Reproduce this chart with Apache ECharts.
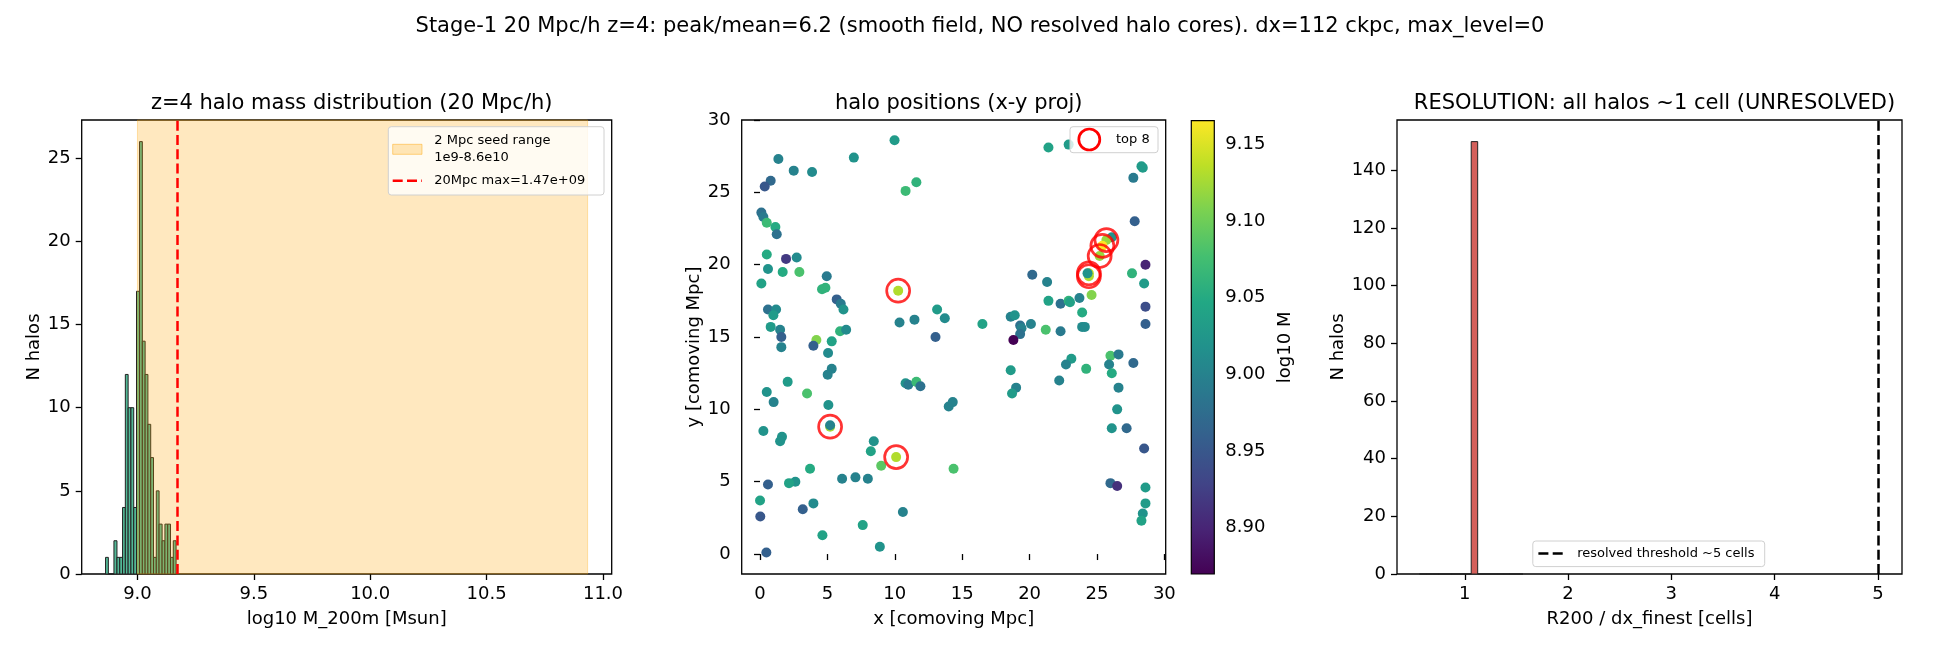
<!DOCTYPE html>
<html>
<head>
<meta charset="utf-8">
<script src="https://cdn.jsdelivr.net/npm/echarts@6/dist/echarts.min.js"></script>
<style>
  html, body { margin: 0; padding: 0; background: #fff; }
  #chart { width: 1950px; height: 650px; }
</style>
</head>
<body>
<div id="chart"></div>
<script>
// ---- left panel: halo mass histogram (25 bins) ----
const massEdges = [8.863, 8.875, 8.887, 8.899, 8.912, 8.924, 8.936, 8.948, 8.960, 8.972,
                   8.984, 8.996, 9.009, 9.021, 9.033, 9.045, 9.057, 9.069, 9.081, 9.093,
                   9.106, 9.118, 9.130, 9.142, 9.154, 9.166];
const massCounts = [1, 0, 0, 2, 1, 1, 4, 12, 10, 10, 4, 17, 26, 14, 12, 9, 7, 1, 5, 3, 2, 3, 3, 1, 2];
const seedRange = [9.0, 10.934];      // log10(1e9) .. log10(8.6e10)
const max20Mpc = 9.167;               // log10(1.47e9)
const massTicks = [9.0, 9.5, 10.0, 10.5, 11.0];
const countTicks = [0, 5, 10, 15, 20, 25];

// ---- middle panel: halo positions ----
const haloX = [9.98, 1.36, 2.50, 3.86, 6.96, 0.79, 0.35, 10.8, 11.6, 0.10,
  0.25, 0.50, 1.14, 1.24, 0.50, 1.93, 2.72, 0.59, 1.68, 2.92,
  0.10, 4.95, 4.60, 4.85, 10.25, 5.69, 5.99, 6.19, 0.59, 1.19,
  0.99, 0.79, 1.49, 1.58, 1.58, 4.18, 3.96, 5.32, 5.05, 5.94,
  6.39, 10.35, 11.46, 13.14, 13.71, 13.02, 21.4, 22.9, 28.3, 28.4,
  27.7, 27.8, 26.1, 25.7, 25.4, 25.2, 24.4, 24.4, 24.3, 28.6,
  27.6, 28.5, 20.2, 21.3, 24.6, 21.4, 22.3, 22.9, 23.0, 23.7,
  23.9, 28.6, 28.6, 16.5, 18.6, 18.9, 19.3, 20.1, 19.4, 19.3,
  18.8, 21.2, 22.3, 23.9, 24.1, 5.32, 5.02, 2.05, 0.50, 1.01,
  3.49, 5.07, 5.20, 5.20, 0.25, 1.63, 1.49, 8.44, 8.22, 10.1,
  8.99, 14.36, 3.71, 6.09, 7.08, 8.00, 2.62, 2.15, 0.59, 0.00,
  0.02, 3.17, 3.96, 7.62, 4.63, 10.6, 8.89, 0.47, 10.8, 11.0,
  11.6, 11.9, 14.0, 14.3, 23.1, 22.7, 24.2, 26.0, 26.6, 25.9,
  26.1, 27.7, 26.6, 26.5, 26.1, 27.2, 28.5, 26.0, 26.5, 28.6,
  28.6, 28.4, 28.3, 18.6, 19.0, 18.7, 22.2];
const haloY = [28.6, 27.3, 26.5, 26.4, 27.4, 25.8, 25.4, 25.1, 25.7, 23.6,
  23.3, 22.9, 22.6, 22.1, 20.7, 20.4, 20.5, 19.7, 19.5, 19.5,
  18.7, 19.2, 18.3, 18.4, 18.2, 17.6, 17.3, 16.9, 16.9, 16.9,
  16.5, 15.7, 15.5, 15.0, 14.3, 14.8, 14.4, 14.7, 13.9, 15.4,
  15.5, 16.0, 16.2, 16.9, 16.3, 15.0, 28.1, 28.3, 26.8, 26.7,
  26.0, 23.0, 21.9, 21.7, 21.3, 20.6, 19.4, 19.2, 19.4, 20.0,
  19.4, 18.7, 19.3, 18.8, 17.9, 17.5, 17.3, 17.5, 17.4, 17.7,
  16.7, 17.1, 15.9, 15.9, 16.4, 16.5, 15.8, 15.9, 15.6, 15.2,
  14.8, 15.5, 15.4, 15.7, 15.7, 12.8, 12.4, 11.9, 11.2, 10.5,
  11.1, 10.3, 8.8, 8.9, 8.5, 8.1, 7.8, 7.8, 7.1, 6.7,
  6.1, 5.9, 5.9, 5.2, 5.3, 5.2, 5.0, 4.9, 4.8, 3.7,
  2.6, 3.1, 3.5, 2.0, 1.3, 2.9, 0.5, 0.1, 11.8, 11.7,
  11.9, 11.6, 10.2, 10.5, 13.5, 13.1, 12.8, 13.7, 13.8, 13.1,
  12.5, 13.2, 11.5, 10.0, 8.7, 8.7, 7.3, 4.9, 4.7, 4.6,
  3.5, 2.8, 2.3, 12.7, 11.5, 11.1, 12.0];
const haloLogM = [9.03, 9.00, 9.00, 9.01, 9.02, 8.97, 8.95, 9.07, 9.06, 8.98,
  8.99, 9.07, 9.05, 8.98, 9.05, 8.92, 9.01, 9.02, 9.05, 9.08,
  9.04, 8.99, 9.06, 9.06, 9.13, 8.96, 8.99, 9.02, 8.98, 9.01,
  9.03, 9.03, 9.00, 8.96, 9.00, 9.11, 8.96, 9.04, 9.01, 9.06,
  9.01, 9.00, 9.00, 9.03, 9.01, 8.96, 9.04, 9.03, 9.03, 9.03,
  8.99, 8.96, 9.02, 9.12, 9.165, 9.12, 9.14, 9.13, 9.02, 8.90,
  9.06, 9.03, 8.97, 9.00, 9.11, 9.04, 8.98, 9.06, 9.04, 9.00,
  9.05, 8.94, 8.96, 9.04, 9.00, 9.02, 8.98, 9.00, 9.00, 8.98,
  8.87, 9.08, 8.99, 9.01, 9.01, 9.00, 9.00, 9.03, 9.02, 9.00,
  9.08, 9.02, 9.125, 9.00, 9.02, 9.02, 9.02, 9.02, 9.04, 9.13,
  9.09, 9.08, 9.05, 9.00, 9.00, 9.00, 9.02, 9.04, 8.96, 9.04,
  8.95, 8.96, 9.01, 9.04, 9.04, 9.00, 9.02, 8.96, 9.02, 8.99,
  9.07, 8.98, 9.00, 9.00, 9.03, 9.00, 9.06, 9.08, 8.99, 9.00,
  9.05, 8.97, 9.00, 9.02, 9.02, 8.97, 8.95, 8.97, 8.91, 9.03,
  9.03, 9.02, 9.04, 9.03, 9.00, 9.03, 9.00];
const posTicks = [0, 5, 10, 15, 20, 25, 30];
const nTop = 8;
const cbRange = [8.8698, 9.1654];
const cbTicks = [8.90, 8.95, 9.00, 9.05, 9.10, 9.15];

// ---- right panel: R200 / dx histogram ----
const resEdges = [0.5625, 0.625, 0.6875, 0.75, 0.8125, 0.875, 0.9375, 1.0, 1.0625,
                  1.125, 1.1875, 1.25, 1.3125, 1.375, 1.4375, 1.5, 1.5625];
const resCounts = [0, 0, 0, 0, 0, 0, 0, 0, 150, 0, 0, 0, 0, 0, 0, 0];
const resolvedThreshold = 5;
const cellTicks = [1, 2, 3, 4, 5];
const resCountTicks = [0, 20, 40, 60, 80, 100, 120, 140];

const viridis = ['#440154', '#482475', '#414487', '#355f8d', '#2a788e', '#21918c',
                 '#22a884', '#44bf70', '#7ad151', '#bddf26', '#fde725'];

const FONT = 'DejaVu Sans';

window.onload = () => {
    const chart = echarts.init(document.getElementById('chart'));

    const histData = (edges, counts) => counts.map((c, i) => [edges[i], edges[i + 1], c]);
    const scatterData = haloX.map((x, i) => [x, haloY[i], haloLogM[i]]);
    const topIdx = haloLogM.map((m, i) => i).sort((a, b) => haloLogM[b] - haloLogM[a]).slice(0, nTop);
    const topData = topIdx.map(i => [haloX[i], haloY[i]]);

    const histItem = (fill, stroke) => (params, api) => {
        const p0 = api.coord([api.value(0), api.value(2)]);
        const p1 = api.coord([api.value(1), 0]);
        return {
            type: 'rect',
            shape: { x: p0[0], y: p0[1], width: p1[0] - p0[0], height: p1[1] - p0[1] },
            style: { fill: fill, stroke: stroke, lineWidth: 1 }
        };
    };

    const tickLabel = {
        color: '#000', fontSize: 18, fontFamily: FONT, margin: 11
    };
    const axisBase = (ticks, fmt) => ({
        type: 'value',
        axisLine: { show: false },
        axisTick: { show: true, length: 6, customValues: ticks, lineStyle: { color: '#000', width: 1.3 } },
        axisLabel: Object.assign({ customValues: ticks, formatter: fmt }, tickLabel),
        splitLine: { show: false },
        nameLocation: 'middle',
        nameTextStyle: { color: '#000', fontSize: 18, fontFamily: FONT }
    });
    const gridBox = { show: true, borderColor: '#000', borderWidth: 1.3, backgroundColor: 'transparent' };

    const titleStyle = { color: '#000', fontSize: 21, fontWeight: 'normal', fontFamily: FONT };

    const option = {
        backgroundColor: '#fff',
        animation: false,
        title: [
            { text: 'Stage-1 20 Mpc/h z=4: peak/mean=6.2 (smooth field, NO resolved halo cores). dx=112 ckpc, max_level=0',
              left: 975, top: 11, textAlign: 'center', textStyle: titleStyle },
            { text: 'z=4 halo mass distribution (20 Mpc/h)', left: 346.7, top: 88, textAlign: 'center', textStyle: titleStyle },
            { text: 'halo positions (x-y proj)', left: 953.7, top: 88, textAlign: 'center', textStyle: titleStyle },
            { text: 'RESOLUTION: all halos ~1 cell (UNRESOLVED)', left: 1649.5, top: 88, textAlign: 'center', textStyle: titleStyle }
        ],
        grid: [
            Object.assign({ left: 81.7, top: 120, width: 530, height: 454 }, gridBox),
            Object.assign({ left: 741.7, top: 120, width: 424, height: 454 }, gridBox),
            { left: 1191.3, top: 120.7, width: 23, height: 453.3, show: false },
            Object.assign({ left: 1397, top: 120, width: 505, height: 454 }, gridBox)
        ],
        xAxis: [
            Object.assign(axisBase(massTicks, v => v.toFixed(1)),
                { gridIndex: 0, min: 8.7605, max: 11.0375, name: 'log10 M_200m [Msun]', nameGap: 36 }),
            Object.assign(axisBase(posTicks, v => String(v)),
                { gridIndex: 1, min: -1.36, max: 30.1, name: 'x [comoving Mpc]', nameGap: 36 }),
            { gridIndex: 2, type: 'value', min: 0, max: 1, show: false },
            Object.assign(axisBase(cellTicks, v => String(v)),
                { gridIndex: 3, min: 0.344, max: 5.233, name: 'R200 / dx_finest [cells]', nameGap: 36 })
        ],
        yAxis: [
            Object.assign(axisBase(countTicks, v => String(v)),
                { gridIndex: 0, min: 0, max: 27.3, name: 'N halos', nameGap: 38 }),
            Object.assign(axisBase(posTicks, v => String(v)),
                { gridIndex: 1, min: -1.38, max: 30.0, name: 'y [comoving Mpc]', nameGap: 38 }),
            Object.assign(axisBase(cbTicks, v => v.toFixed(2)),
                { gridIndex: 2, min: cbRange[0], max: cbRange[1], position: 'right', name: 'log10 M', nameGap: 62, nameRotate: 90 }),
            Object.assign(axisBase(resCountTicks, v => String(v)),
                { gridIndex: 3, min: 0, max: 157.5, name: 'N halos', nameGap: 49 })
        ],
        visualMap: {
            type: 'continuous', show: false, seriesIndex: 2, dimension: 2,
            min: cbRange[0], max: cbRange[1], inRange: { color: viridis }
        },
        series: [
            {
                type: 'custom', xAxisIndex: 0, yAxisIndex: 0, z: 2,
                encode: { x: [0, 1], y: 2 },
                data: histData(massEdges, massCounts),
                renderItem: histItem('#52b896', '#222')
            },
            {
                type: 'custom', xAxisIndex: 0, yAxisIndex: 0, z: 3,
                encode: { x: [0, 1] },
                data: [seedRange],
                renderItem: (params, api) => {
                    const a = api.coord([api.value(0), 0]);
                    const b = api.coord([api.value(1), 0]);
                    const cs = params.coordSys;
                    return {
                        type: 'rect',
                        shape: { x: a[0], y: cs.y, width: b[0] - a[0], height: cs.height },
                        style: { fill: 'rgba(255,165,0,0.25)', stroke: 'rgba(255,165,0,0.3)', lineWidth: 1 }
                    };
                },
                markLine: {
                    silent: true, symbol: ['none', 'none'], label: { show: false },
                    lineStyle: { color: '#ff0000', width: 2.5, type: [10, 4.3] },
                    data: [{ xAxis: max20Mpc }]
                }
            },
            {
                type: 'scatter', xAxisIndex: 1, yAxisIndex: 1, z: 2,
                symbolSize: 10, data: scatterData,
                itemStyle: { opacity: 1 }
            },
            {
                type: 'scatter', xAxisIndex: 1, yAxisIndex: 1, z: 3,
                symbol: 'circle', symbolSize: 23, data: topData,
                itemStyle: { color: 'rgba(0,0,0,0)', borderColor: '#ff0000', borderWidth: 2.7 }
            },
            {
                type: 'custom', xAxisIndex: 2, yAxisIndex: 2, z: 2,
                encode: { y: [0, 1] },
                data: [cbRange],
                renderItem: (params, api) => {
                    const top = api.coord([0, api.value(1)]);
                    const bot = api.coord([1, api.value(0)]);
                    return {
                        type: 'rect',
                        shape: { x: top[0], y: top[1], width: bot[0] - top[0], height: bot[1] - top[1] },
                        style: {
                            fill: new echarts.graphic.LinearGradient(0, 1, 0, 0,
                                viridis.map((c, i) => ({ offset: i / (viridis.length - 1), color: c }))),
                            stroke: '#000', lineWidth: 1.2
                        }
                    };
                }
            },
            {
                type: 'custom', xAxisIndex: 3, yAxisIndex: 3, z: 2,
                encode: { x: [0, 1], y: 2 },
                data: histData(resEdges, resCounts),
                renderItem: histItem('#d4605b', '#222'),
                markLine: {
                    silent: true, symbol: ['none', 'none'], label: { show: false },
                    lineStyle: { color: '#000', width: 2.5, type: [10, 4.3] },
                    data: [{ xAxis: resolvedThreshold }]
                }
            }
        ],
        graphic: [
            // left legend
            { type: 'rect', z: 100, shape: { x: 388.3, y: 126.7, width: 215.7, height: 68.3, r: 3 },
              style: { fill: 'rgba(255,255,255,0.8)', stroke: '#d0d0d0', lineWidth: 1 } },
            { type: 'rect', z: 101, shape: { x: 392.7, y: 144.3, width: 29.3, height: 10 },
              style: { fill: 'rgba(255,165,0,0.25)', stroke: 'rgba(255,165,0,0.45)', lineWidth: 1 } },
            { type: 'text', z: 101, x: 434.3, y: 140.5,
              style: { text: '2 Mpc seed range', fill: '#000', font: '13px ' + FONT, verticalAlign: 'middle' } },
            { type: 'text', z: 101, x: 434.3, y: 157.7,
              style: { text: '1e9-8.6e10', fill: '#000', font: '13px ' + FONT, verticalAlign: 'middle' } },
            { type: 'line', z: 101, shape: { x1: 392.7, y1: 180.7, x2: 422, y2: 180.7 },
              style: { stroke: '#ff0000', lineWidth: 2.5, lineDash: [10, 4.3] } },
            { type: 'text', z: 101, x: 434.3, y: 180.7,
              style: { text: '20Mpc max=1.47e+09', fill: '#000', font: '13px ' + FONT, verticalAlign: 'middle' } },
            // middle legend
            { type: 'rect', z: 100, shape: { x: 1070, y: 126.7, width: 88, height: 26, r: 3 },
              style: { fill: 'rgba(255,255,255,0.8)', stroke: '#d0d0d0', lineWidth: 1 } },
            { type: 'circle', z: 101, shape: { cx: 1089.3, cy: 139.5, r: 10.5 },
              style: { fill: 'none', stroke: '#ff0000', lineWidth: 2.7 } },
            { type: 'text', z: 101, x: 1116, y: 139.7,
              style: { text: 'top 8', fill: '#000', font: '13px ' + FONT, verticalAlign: 'middle' } },
            // right legend
            { type: 'rect', z: 100, shape: { x: 1532.8, y: 541, width: 231.9, height: 25.6, r: 3 },
              style: { fill: 'rgba(255,255,255,0.8)', stroke: '#d0d0d0', lineWidth: 1 } },
            { type: 'line', z: 101, shape: { x1: 1538.4, y1: 553.5, x2: 1566.6, y2: 553.5 },
              style: { stroke: '#000', lineWidth: 2.5, lineDash: [10, 4.3] } },
            { type: 'text', z: 101, x: 1577.2, y: 553.7,
              style: { text: 'resolved threshold ~5 cells', fill: '#000', font: '13px ' + FONT, verticalAlign: 'middle' } }
        ]
    };

    chart.setOption(option);
};
</script>
</body>
</html>
